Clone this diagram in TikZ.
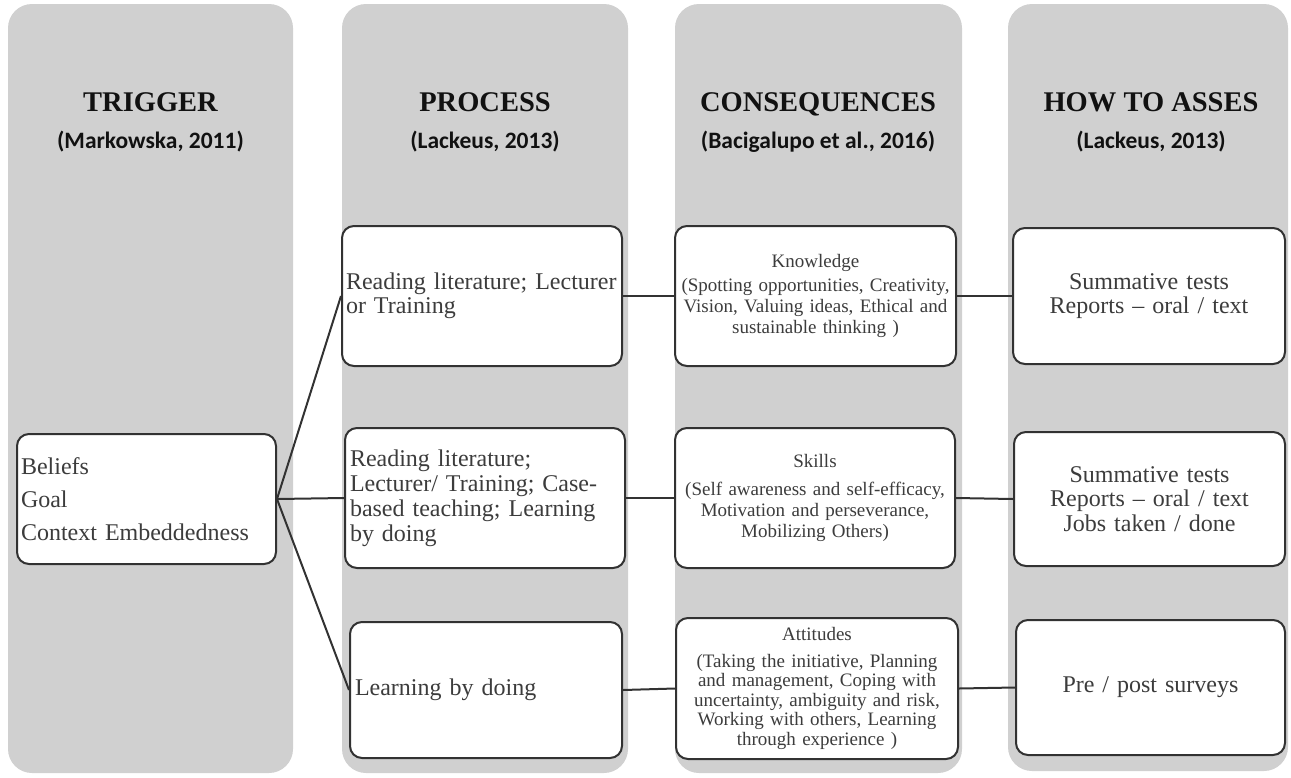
\documentclass[tikz,border=0pt]{standalone}
\usepackage{fontspec}
\setmainfont{Liberation Serif}
\newfontfamily\calfont{Carlito}
\definecolor{colbg}{RGB}{208,208,208}
\definecolor{boxline}{RGB}{50,50,50}
\definecolor{boxtext}{RGB}{60,60,60}
\definecolor{headtext}{RGB}{17,17,17}
\begin{document}
\begin{tikzpicture}[x=1pt,y=-1pt,
  colshape/.style={fill=colbg, rounded corners=24pt},
  box/.style={draw=boxline, line width=2pt, fill=white, rounded corners=12pt,
    inner ysep=0pt, inner xsep=4pt, text=boxtext},
  big/.style={font=\fontsize{24}{24}\selectfont},
  small/.style={font=\fontsize{19}{21}\selectfont},
  link/.style={draw=boxline, line width=2pt},
  head/.style={font=\bfseries\fontsize{28.5}{30}\selectfont, anchor=base, text=headtext},
  cite/.style={font=\calfont\bfseries\fontsize{23.5}{25}\selectfont, anchor=base, text=headtext}]
\useasboundingbox (0,0) rectangle (1291,777);

% columns
\fill[colshape] (8,4) rectangle (293,773);
\fill[colshape] (342,4) rectangle (628,773);
\fill[colshape] (675,4) rectangle (962,773);
\fill[colshape] (1008,4) rectangle (1288,771);

% headings
\node[head] (h1) at (150.5,111.7) {TRIGGER};
\node[cite] (c1) at (150.5,148) {(Markowska, 2011)};
\node[head] (h2) at (485,111.7) {PROCESS};
\node[cite] (c2) at (485,148) {(Lackeus, 2013)};
\node[head] (h3) at (818,111.7) {CONSEQUENCES};
\node[cite] (c3) at (818,148) {(Bacigalupo et al., 2016)};
\node[head] (h4) at (1151,111.7) {HOW TO ASSES};
\node[cite] (c4) at (1151,148) {(Lackeus, 2013)};

% trigger
\node[box, font=\fontsize{24}{33}\selectfont, minimum width=259pt, minimum height=130pt,
  text width=251pt, align=left] (trig) at (146.5,499)
  {Beliefs\\Goal\\Context Embeddedness};

% process
\node[box, big, minimum width=280pt, minimum height=140pt, text width=272pt, align=left]
  (p1) at (482,296) {Reading literature; Lecturer\\or Training};
\node[box, font=\fontsize{24}{25}\selectfont, minimum width=280pt, minimum height=140pt,
  text width=270pt, inner xsep=5pt, align=left]
  (p2) at (485,498) {Reading literature;\\Lecturer/ Training; Case-\\based teaching; Learning\\by doing};
\node[box, big, minimum width=272pt, minimum height=136pt, text width=262pt, inner xsep=5pt, align=left]
  (p3) at (486,690) {Learning by doing};

% consequences
\node[box, small, minimum width=281pt, minimum height=140pt, text width=273pt, align=center]
  (k) at (815.5,296) {Knowledge\\[3pt](Spotting opportunities, Creativity,\\Vision, Valuing ideas, Ethical and\\sustainable thinking )};
\node[box, small, minimum width=280pt, minimum height=140pt, text width=272pt, align=center]
  (sk) at (815,498) {Skills\\[7pt](Self awareness and self-efficacy,\\Motivation and perseverance,\\Mobilizing Others)};
\node[box, font=\fontsize{19}{19.5}\selectfont, minimum width=282pt, minimum height=141pt, text width=274pt, align=center]
  (at) at (817,688.5) {Attitudes\\[7pt](Taking the initiative, Planning\\and management, Coping with\\uncertainty, ambiguity and risk,\\Working with others, Learning\\through experience )};

% assessment
\node[box, big, minimum width=272pt, minimum height=136pt, text width=264pt, align=center]
  (s1) at (1149,296) {Summative tests\\Reports -- oral / text};
\node[box, font=\fontsize{24}{24.5}\selectfont, minimum width=271pt, minimum height=134pt, text width=263pt, align=center]
  (s2) at (1149.5,499) {Summative tests\\Reports -- oral / text\\Jobs taken / done};
\node[box, big, minimum width=269pt, minimum height=135pt, text width=261pt, align=center]
  (pre) at (1150.5,687.5) {Pre / post surveys};

% connectors
\draw[link] (trig.east) -- (p1.west);
\draw[link] (trig.east) -- (p2.west);
\draw[link] (trig.east) -- (p3.west);
\draw[link] (p1.east) -- (k.west);
\draw[link] (k.east) -- (s1.west);
\draw[link] (p2.east) -- (sk.west);
\draw[link] (sk.east) -- (s2.west);
\draw[link] (p3.east) -- (at.west);
\draw[link] (at.east) -- (pre.west);
\end{tikzpicture}
\end{document}
